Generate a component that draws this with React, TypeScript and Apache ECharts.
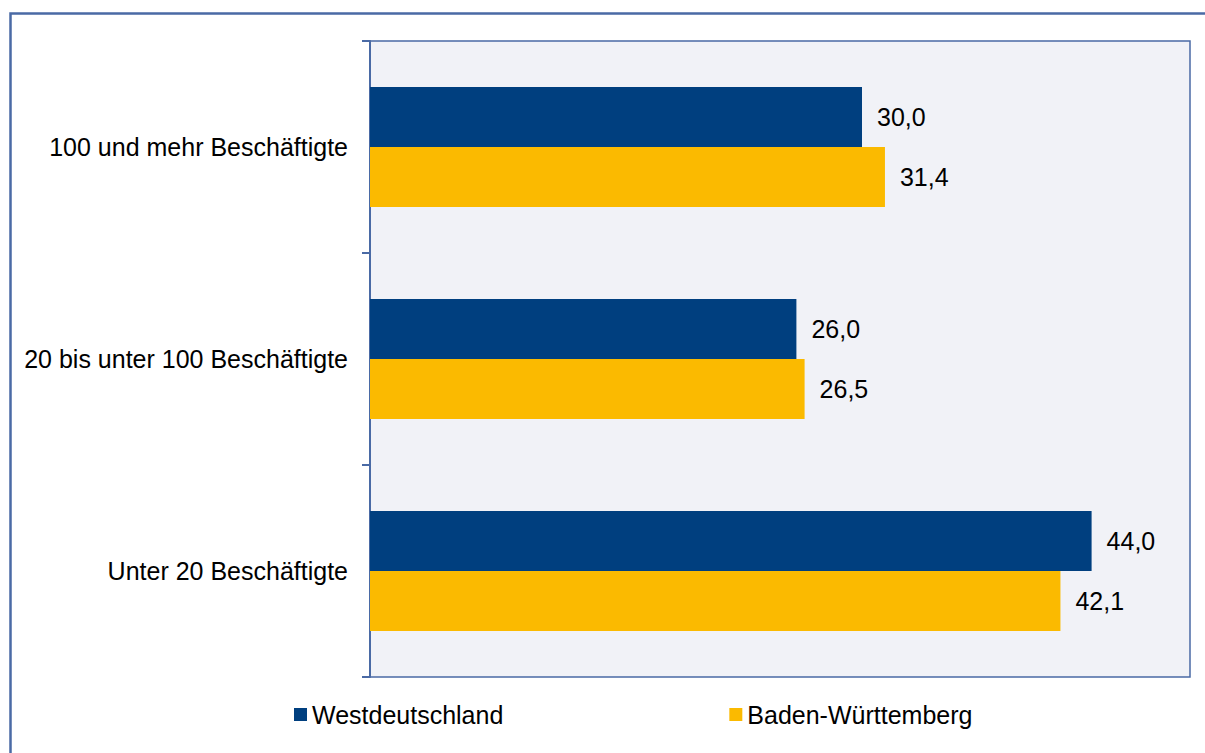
import React, { useEffect, useRef } from "react";
import * as echarts from "echarts";

const categories = [
  "100 und mehr Beschäftigte",
  "20 bis unter 100 Beschäftigte",
  "Unter 20 Beschäftigte",
];
const westdeutschland = [30.0, 26.0, 44.0];
const badenWuerttemberg = [31.4, 26.5, 42.1];
const seriesNames = ["Westdeutschland", "Baden-Württemberg"];

const FONT = "Arial, 'Liberation Sans', sans-serif";
const BORDER = "#4A6AA5";
const FS = 25;

export default function App() {
  const ref = useRef<HTMLDivElement>(null);
  useEffect(() => {
    if (!ref.current) return;
    const chart = echarts.init(ref.current, undefined, { renderer: "svg" });
    const fmt = (p: any) => Number(p.value).toFixed(1).replace(".", ",");
    chart.setOption({
      animation: false,
      backgroundColor: "#ffffff",
      textStyle: { fontFamily: FONT },
      graphic: [
        {
          type: "rect",
          shape: { x: 10.5, y: 13.5, width: 1210, height: 760 },
          style: { fill: "none", stroke: BORDER, lineWidth: 2.5 },
          silent: true,
        },
      ],
      grid: {
        left: 370,
        top: 41,
        right: 15,
        bottom: 76,
        show: true,
        backgroundColor: "#F1F2F7",
        borderColor: BORDER,
        borderWidth: 1.5,
        containLabel: false,
      },
      legend: {
        data: seriesNames,
        left: 294,
        top: 702,
        padding: 0,
        icon: "rect",
        itemWidth: 13,
        itemHeight: 13,
        itemGap: 226,
        textStyle: { fontSize: FS, color: "#000", fontFamily: FONT },
      },
      xAxis: {
        type: "value",
        min: 0,
        max: 50,
        show: false,
        splitLine: { show: false },
      },
      yAxis: {
        type: "category",
        data: categories,
        inverse: true,
        axisLine: { show: true, lineStyle: { color: BORDER, width: 2 } },
        axisTick: { show: true, length: 8, lineStyle: { color: BORDER, width: 2 } },
        axisLabel: { color: "#000", fontSize: FS, fontFamily: FONT, margin: 22 },
      },
      series: [
        {
          name: seriesNames[0],
          type: "bar",
          data: westdeutschland,
          barWidth: 60,
          barGap: "0%",
          itemStyle: { color: "#003F7F" },
          label: { show: true, position: "right", distance: 15, formatter: fmt, color: "#000", fontSize: FS, fontFamily: FONT },
        },
        {
          name: seriesNames[1],
          type: "bar",
          data: badenWuerttemberg,
          barWidth: 60,
          barGap: "0%",
          itemStyle: { color: "#FBBA00" },
          label: { show: true, position: "right", distance: 15, formatter: fmt, color: "#000", fontSize: FS, fontFamily: FONT },
        },
      ],
    });
    return () => chart.dispose();
  }, []);
  return (
    <div
      ref={ref}
      style={{ position: "absolute", left: 0, top: 0, width: 1205, height: 753 }}
    />
  );
}
